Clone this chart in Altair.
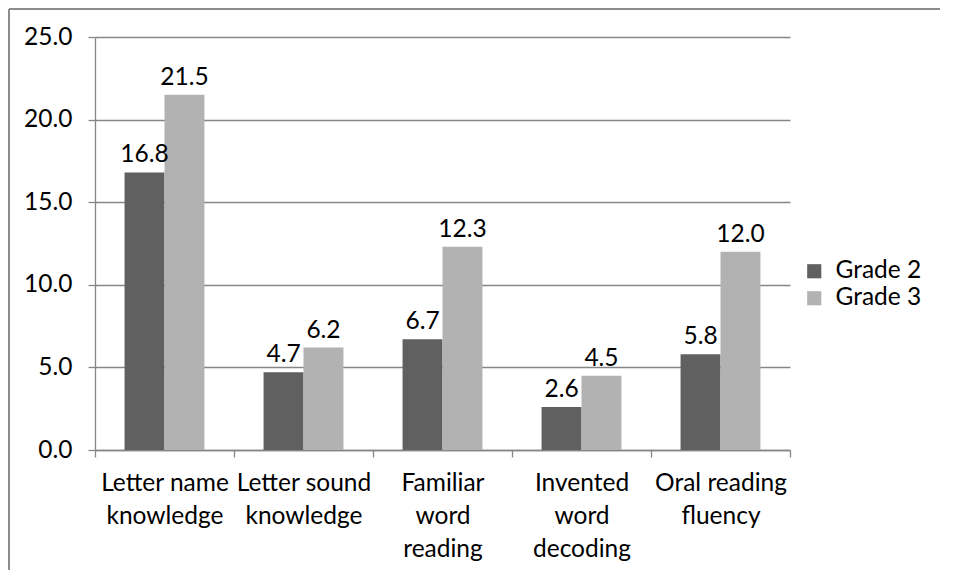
import altair as alt
import pandas as pd

categories = ["Letter name|knowledge", "Letter sound|knowledge", "Familiar|word|reading",
              "Invented|word|decoding", "Oral reading|fluency"]
series = ["Grade 2", "Grade 3"]
grade2 = [16.8, 4.7, 6.7, 2.6, 5.8]
grade3 = [21.5, 6.2, 12.3, 4.5, 12.0]
colors = ["#606060", "#b2b2b2"]

rows = []
for c, a, b in zip(categories, grade2, grade3):
    rows.append({"cat": c, "series": "Grade 2", "value": a})
    rows.append({"cat": c, "series": "Grade 3", "value": b})
df = pd.DataFrame(rows)

FONT = "Lato"
FS = 24.5

x = alt.X("cat:N", sort=categories, title=None,
          scale=alt.Scale(paddingInner=0, paddingOuter=0),
          axis=alt.Axis(labelExpr="split(datum.label, '|')", labelAngle=0,
                        tickBand="extent", tickSize=7, tickColor="#868686",
                        domainColor="#868686", labelFont=FONT, labelFontSize=FS,
                        labelColor="#000000", labelPadding=14, labelLineHeight=33,
                        labelBaseline="top", grid=False, labelLimit=300))
xo = alt.XOffset("series:N", sort=series,
                 scale=alt.Scale(paddingInner=0, paddingOuter=0.74))
y = alt.Y("value:Q", title=None,
          scale=alt.Scale(domain=[0, 25], nice=False),
          axis=alt.Axis(values=[0, 5, 10, 15, 20, 25], format=".1f", tickSize=7,
                        tickColor="#868686", domainColor="#868686",
                        gridColor="#868686", labelFont=FONT, labelFontSize=FS,
                        labelColor="#000000", labelPadding=16))

base = alt.Chart(df)
bars = base.mark_bar().encode(
    x=x, xOffset=xo, y=y,
    color=alt.Color("series:N", sort=series, title=None,
                    scale=alt.Scale(domain=series, range=colors),
                    legend=alt.Legend(orient="none", legendX=707, legendY=222,
                                      symbolType="square", symbolSize=200,
                                      symbolStrokeWidth=0, labelFont=FONT,
                                      labelFontSize=FS, labelColor="#000000",
                                      rowPadding=2, labelOffset=9)),
)
labels = base.mark_text(baseline="bottom", dy=-5, font=FONT, fontSize=FS,
                        color="#000000").encode(
    x=alt.X("cat:N", sort=categories), xOffset=alt.XOffset("series:N", sort=series),
    y="value:Q", text=alt.Text("value:Q", format=".1f"))

border_left = alt.Chart(pd.DataFrame({"a": [0]})).mark_rule(color="#8c8c8c", strokeWidth=2).encode(
    x=alt.value(-86), y=alt.value(-28), y2=alt.value(540))
border_top = alt.Chart(pd.DataFrame({"a": [0]})).mark_rule(color="#8c8c8c", strokeWidth=2).encode(
    y=alt.value(-28), x=alt.value(-86), x2=alt.value(850))

chart = alt.layer(bars, labels, border_left, border_top).properties(
    width=695, height=413,
    autosize=alt.AutoSizeParams(type="none"),
    padding={"left": 87, "top": 29, "right": 150, "bottom": 120},
).configure_view(stroke=None).configure_axis(domainWidth=1.3, tickWidth=1.3, gridWidth=1.3)

chart.save("out.html", embed_options={"renderer": "svg", "actions": False})
